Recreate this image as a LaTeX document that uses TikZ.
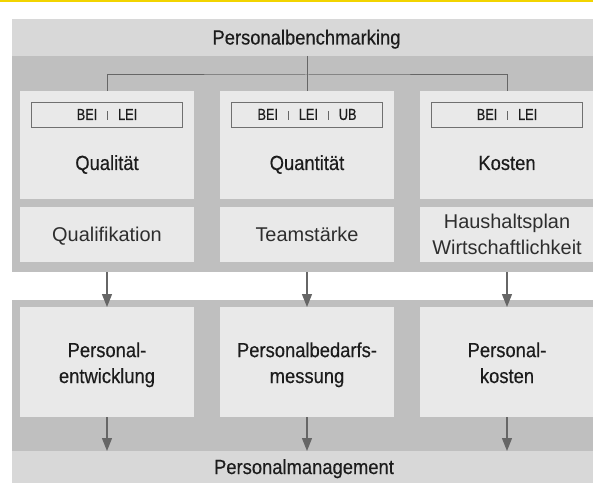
\documentclass[tikz,border=0pt]{standalone}
\usepackage{fontspec}
\setmainfont{Liberation Sans}
\newfontfamily\condfont[FakeStretch=0.9,FakeBold=0.4]{Liberation Sans}
\newfontfamily\tagfont[FakeStretch=0.8,FakeBold=0.4]{Liberation Sans}
\usetikzlibrary{arrows.meta}

\definecolor{bandlight}{HTML}{D8D8D8}
\definecolor{banddark}{HTML}{BFBFBF}
\definecolor{boxfill}{HTML}{E9E9E9}
\definecolor{linegray}{HTML}{666666}
\definecolor{tagline}{HTML}{707070}
\definecolor{accent}{HTML}{F2D400}
\definecolor{ink}{HTML}{1C1C1C}
\definecolor{softink}{HTML}{2E2E2E}

% thin divider between the abbreviations
\newcommand{\tagsep}{\hspace{10bp}{\color{linegray}\rule{0.8bp}{9bp}}\hspace{10bp}}

\begin{document}
\begin{tikzpicture}[x=1bp,y=-1bp,
  region/.style={fill=#1, draw=none, inner sep=0, outer sep=0, anchor=north west},
  panel/.style={fill=boxfill, draw=none, inner sep=0, outer sep=0, anchor=north west},
  tagbox/.style={fill=boxfill, draw=tagline, line width=0.9bp, inner sep=0, outer sep=0,
    minimum width=150.5bp, minimum height=25bp, text=ink,
    font=\tagfont\fontsize{16}{18}\selectfont},
  title/.style={inner sep=0, outer sep=0, text=ink, align=center,
    font=\condfont\fontsize{20.5}{26}\selectfont},
  plain/.style={inner sep=0, outer sep=0, text=softink, align=center,
    font=\fontsize{20}{26}\selectfont},
  conn/.style={draw=linegray, line width=1bp},
  flow/.style={draw=linegray, line width=1.3bp, -{Triangle[length=13bp,width=10bp]}}
]
\useasboundingbox (0,0) rectangle (593,483);

% yellow rule along the top edge
\fill[accent] (0,0) rectangle (593,1.8);

% background bands
\node[region=bandlight, minimum width=581bp, minimum height=37bp]  (benchband) at (12,19) {};
\node[region=banddark,  minimum width=581bp, minimum height=216bp] (upper)     at (12,56) {};
\node[region=banddark,  minimum width=581bp, minimum height=151bp] (lower)     at (12,300) {};
\node[region=bandlight, minimum width=581bp, minimum height=32bp]  (mgmtband)  at (12,451) {};

\node[title, anchor=base] (benchtext) at (306.5,44.5) {Personalbenchmarking};
\node[title, anchor=base] (mgmttext)  at (304,474) {Personalmanagement};

% upper panels
\node[panel, minimum width=174bp, minimum height=108bp] (t1) at (20,91) {};
\node[panel, minimum width=174bp, minimum height=108bp] (t2) at (220,91) {};
\node[panel, minimum width=174bp, minimum height=108bp] (t3) at (420,91) {};

\node[tagbox] (tag1) at (107,114.5) {BEI\tagsep LEI};
\node[tagbox] (tag2) at (307,114.5) {BEI\tagsep LEI\tagsep UB};
\node[tagbox] (tag3) at (507,114.5) {BEI\tagsep LEI};

\node[title, anchor=base] (qual)  at (107,170) {Qualität};
\node[title, anchor=base] (quant) at (307,170) {Quantität};
\node[title, anchor=base] (cost)  at (507,170) {Kosten};

% criteria panels
\node[panel, minimum width=174bp, minimum height=55bp] (m1) at (20,207) {};
\node[panel, minimum width=174bp, minimum height=55bp] (m2) at (220,207) {};
\node[panel, minimum width=174bp, minimum height=55bp] (m3) at (420,207) {};

\node[plain, anchor=base] (crit1) at (107,241.5) {Qualifikation};
\node[plain, anchor=base] (crit2) at (307,241.5) {Teamstärke};
% a multi-line node sits on the baseline of its last line
\node[plain, anchor=base] (crit3) at (507,254) {Haushaltsplan\\Wirtschaftlichkeit};

% management panels
\node[panel, minimum width=174bp, minimum height=110bp] (b1) at (20,307) {};
\node[panel, minimum width=174bp, minimum height=110bp] (b2) at (220,307) {};
\node[panel, minimum width=174bp, minimum height=110bp] (b3) at (420,307) {};

\node[title, anchor=base] (area1) at (107,383) {Personal-\\entwicklung};
\node[title, anchor=base] (area2) at (307,383) {Personalbedarfs-\\messung};
\node[title, anchor=base] (area3) at (507,383) {Personal-\\kosten};

% tree from the benchmarking band to the three dimensions
\coordinate (fork) at (307,75);
\draw[conn] (benchband.south -| t2.north) -- (t2.north);
\draw[conn] (t1.north) |- (fork) -| (t3.north);

% flow arrows
\draw[flow] (upper.south -| m1.south) -- (b1.north);
\draw[flow] (upper.south -| m2.south) -- (b2.north);
\draw[flow] (upper.south -| m3.south) -- (b3.north);
\draw[flow] (b1.south) -- (b1.south |- mgmtband.north);
\draw[flow] (b2.south) -- (b2.south |- mgmtband.north);
\draw[flow] (b3.south) -- (b3.south |- mgmtband.north);
\end{tikzpicture}
\end{document}
